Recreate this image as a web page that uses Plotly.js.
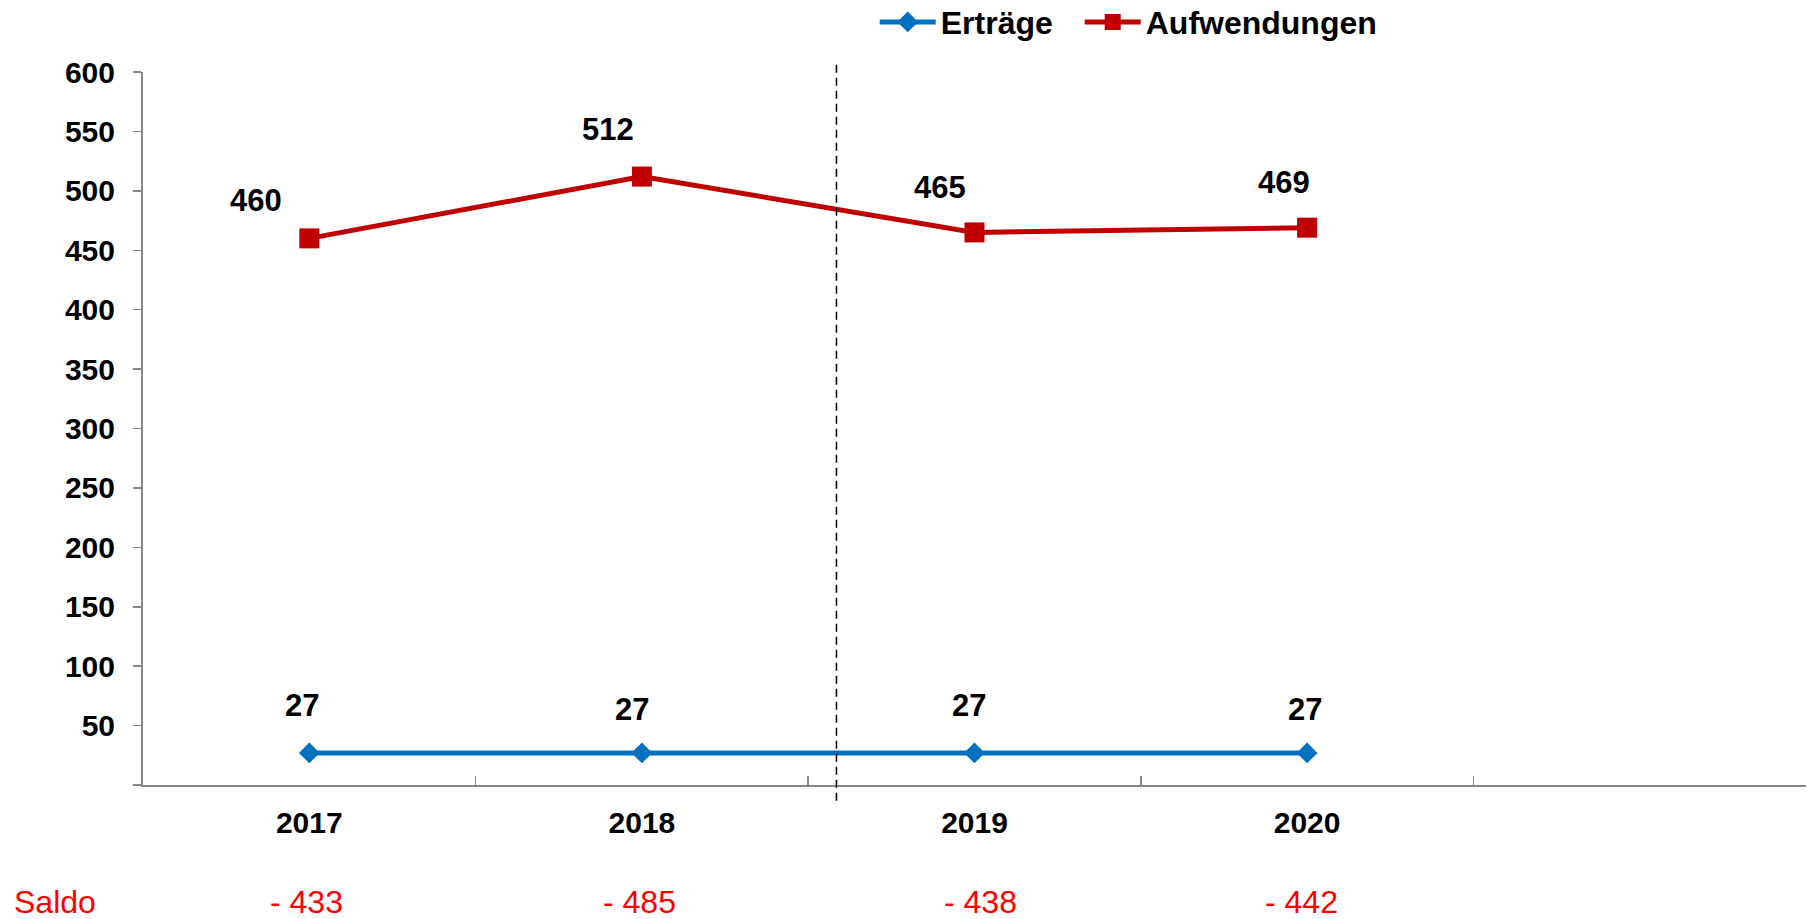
<!DOCTYPE html>
<html>
<head>
<meta charset="utf-8">
<script src="https://cdn.plot.ly/plotly-3.0.1.min.js"></script>
<style>
  html, body { margin: 0; padding: 0; background: #ffffff; }
  #chart { width: 1815px; height: 919px; }
</style>
</head>
<body>
<div id="chart"></div>
<script>
// ---- data ----
const categories = ['2017', '2018', '2019', '2020', ' '];
const years = ['2017', '2018', '2019', '2020'];
const ertraege = [27, 27, 27, 27];
const aufwendungen = [460, 512, 465, 469];
const saldoLabel = 'Saldo';
const saldo = ['- 433', '- 485', '- 438', '- 442'];
const yTickVals = [0, 50, 100, 150, 200, 250, 300, 350, 400, 450, 500, 550, 600];
const yTickText = ['', '50', '100', '150', '200', '250', '300', '350', '400', '450', '500', '550', '600'];
const dividerX = 1.585; // between 2018 and 2019 (category index)

// ---- styles ----
const FONT = 'Liberation Sans, Arial, sans-serif';
const RED = '#c00000';
const BLUE = '#0070c0';
const AXIS = '#868686';
const redLabelShift = [[-53, 38], [-34, 47], [-35, 45], [-23, 45]];
const blueLabelShift = [[-7, 47], [-10, 43], [-6, 47], [-2, 43]];
const saldoShift = [-3, -2, 6, -6];

const traces = [
  {
    name: 'Erträge', type: 'scatter', mode: 'lines+markers',
    x: years, y: ertraege,
    line: { color: BLUE, width: 5 },
    marker: { symbol: 'diamond', size: 16, color: BLUE },
    legendwidth: 134,
    hoverinfo: 'skip'
  },
  {
    name: 'Aufwendungen', type: 'scatter', mode: 'lines+markers',
    x: years, y: aufwendungen,
    line: { color: RED, width: 5 },
    marker: { symbol: 'square', size: 20, color: RED },
    legendwidth: 240,
    hoverinfo: 'skip'
  }
];

const annotations = [];
years.forEach((yr, i) => {
  annotations.push({
    x: i, y: aufwendungen[i], xref: 'x', yref: 'y', text: String(aufwendungen[i]),
    showarrow: false, xshift: redLabelShift[i][0], yshift: redLabelShift[i][1],
    font: { family: FONT, size: 31, color: '#000', weight: 'bold' }
  });
  annotations.push({
    x: i, y: ertraege[i], xref: 'x', yref: 'y', text: String(ertraege[i]),
    showarrow: false, xshift: blueLabelShift[i][0], yshift: blueLabelShift[i][1],
    font: { family: FONT, size: 31, color: '#000', weight: 'bold' }
  });
  annotations.push({
    x: i, y: -0.164, xref: 'x', yref: 'paper', text: saldo[i],
    showarrow: false, yanchor: 'middle', xshift: saldoShift[i],
    font: { family: FONT, size: 32, color: '#ff0000' }
  });
});
annotations.push({
  x: -0.079, y: -0.164, xref: 'paper', yref: 'paper', text: saldoLabel,
  showarrow: false, xanchor: 'left', yanchor: 'middle',
  font: { family: FONT, size: 32, color: '#ff0000' }
});

const layout = {
  width: 1815, height: 919,
  margin: { l: 143, r: 9, t: 72, b: 134, autoexpand: false },
  paper_bgcolor: '#ffffff', plot_bgcolor: '#ffffff',
  font: { family: FONT, color: '#000' },
  showlegend: true,
  legend: {
    orientation: 'h', x: 0.44, xanchor: 'left', y: 1.07, yanchor: 'middle',
    itemwidth: 56, entrywidthmode: 'pixels',
    font: { family: FONT, size: 32, color: '#000', weight: 'bold' },
    bgcolor: 'rgba(0,0,0,0)', itemclick: false
  },
  xaxis: {
    type: 'category', categoryorder: 'array', categoryarray: categories,
    range: [-0.5, 4.5], tickson: 'boundaries',
    showline: true, linecolor: AXIS, linewidth: 2,
    ticks: 'inside', ticklen: 9, tickcolor: AXIS, tickwidth: 1.5,
    showgrid: false, zeroline: false,
    tickfont: { family: FONT, size: 30, color: '#000', weight: 'bold' },
    ticklabelstandoff: 10, fixedrange: true
  },
  yaxis: {
    range: [0, 600], tickmode: 'array', tickvals: yTickVals, ticktext: yTickText,
    showline: true, linecolor: AXIS, linewidth: 2,
    ticks: 'outside', ticklen: 8, tickcolor: AXIS, tickwidth: 1.5,
    showgrid: false, zeroline: false,
    tickfont: { family: FONT, size: 30, color: '#000', weight: 'bold' },
    ticklabelstandoff: 12, fixedrange: true
  },
  shapes: [{
    type: 'line', xref: 'x', yref: 'paper',
    x0: dividerX, x1: dividerX, y0: -0.022, y1: 1.017,
    line: { color: '#000', width: 1.5, dash: '8px,5px' }
  }],
  annotations: annotations
};

Plotly.newPlot('chart', traces, layout, { displayModeBar: false, staticPlot: true });
</script>
</body>
</html>
